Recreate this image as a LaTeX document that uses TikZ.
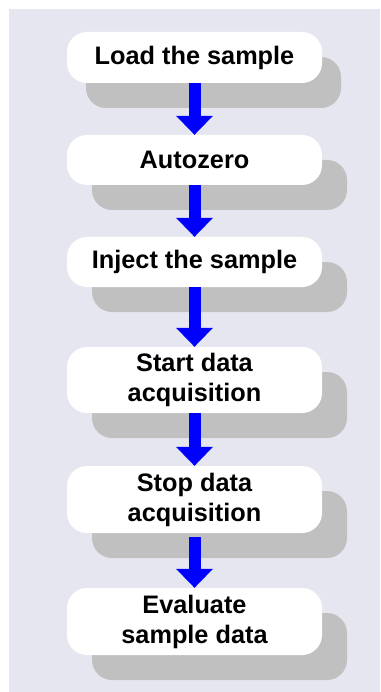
\documentclass[tikz,border=0pt]{standalone}
\usepackage{fontspec}
\setmainfont{Liberation Sans}
\usetikzlibrary{arrows.meta,shadows}
\definecolor{bglav}{RGB}{230,230,240}
\definecolor{shadowgray}{RGB}{192,192,192}
\definecolor{arrowblue}{RGB}{0,0,255}
\begin{document}
\begin{tikzpicture}[x=1pt,y=1pt,
  stepbox/.style={fill=white, draw=none, rounded corners=20pt, minimum width=255pt,
    inner sep=0pt, align=center, font=\fontsize{25.3}{30}\selectfont\bfseries},
  shade25/.style={general shadow={shadow xshift=25pt, shadow yshift=-25pt, fill=shadowgray}},
  flowarrow/.style={draw=arrowblue, line width=12pt, line cap=butt,
    -{Triangle[width=37pt,length=19pt,line width=0pt]}}
]
\useasboundingbox (0,0) rectangle (380,-692);
\fill[bglav] (9,-9) rectangle (380,-692);

\node[stepbox, minimum height=51pt, general shadow={shadow xshift=19pt, shadow yshift=-25pt, fill=shadowgray}] (b1) at (194.5,-57.5) {Load the sample};
\node[stepbox, shade25, minimum height=50pt] (b2) at (194.5,-160) {Autozero};
\node[stepbox, shade25, minimum height=50pt] (b3) at (194.5,-262) {Inject the sample};
\node[stepbox, shade25, minimum height=66pt] (b4) at (194.5,-380) {Start data\\acquisition};
\node[stepbox, shade25, minimum height=67pt] (b5) at (194.5,-499.5) {Stop data\\acquisition};
\node[stepbox, shade25, minimum height=67pt] (b6) at (194.5,-621.5) {Evaluate\\sample data};

\draw[flowarrow] (b1.south) -- (b2.north);
\draw[flowarrow] (b2.south) -- (b3.north);
\draw[flowarrow] (b3.south) -- (b4.north);
\draw[flowarrow] (b4.south) -- (b5.north);
\draw[flowarrow] ([yshift=-4pt]b5.south) -- (b6.north);
\end{tikzpicture}
\end{document}
